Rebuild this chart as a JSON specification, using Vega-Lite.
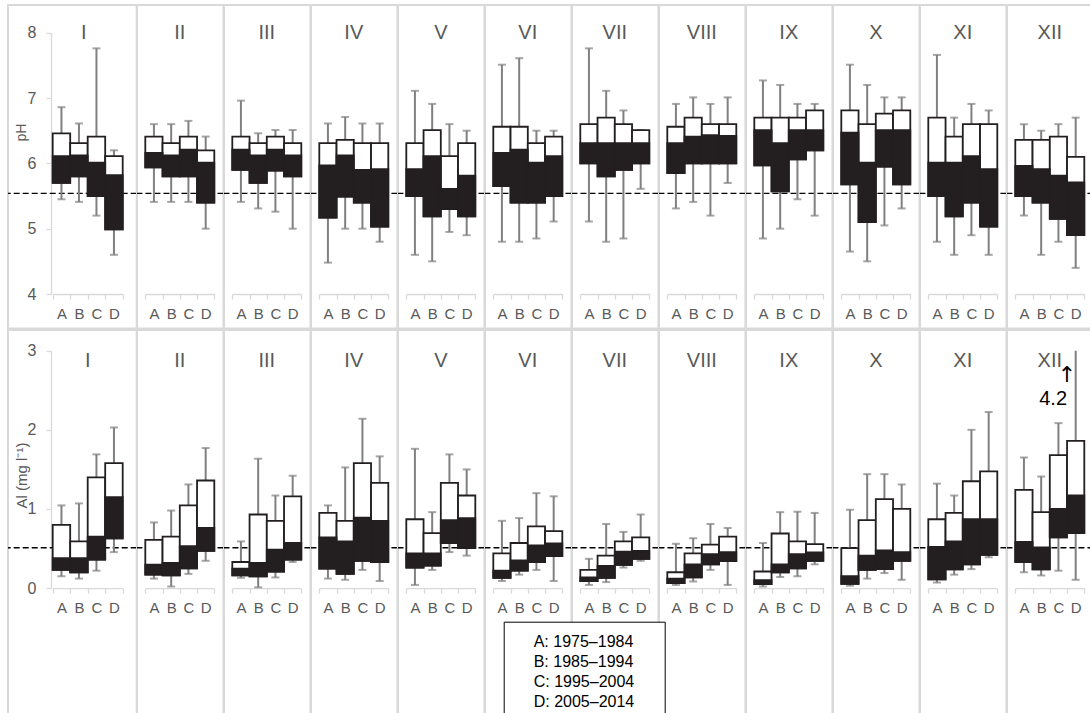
{
  "$schema": "https://vega.github.io/schema/vega-lite/v6.json",
  "padding": {"left": 6, "top": 4, "right": 0, "bottom": 0},
  "datasets": {
    "ph": [
      {"month":"I","period":"A","min":5.45,"q1":5.70,"median":6.11,"q3":6.46,"max":6.86},
      {"month":"I","period":"B","min":5.41,"q1":5.80,"median":6.12,"q3":6.31,"max":6.61},
      {"month":"I","period":"C","min":5.20,"q1":5.50,"median":6.01,"q3":6.41,"max":7.76},
      {"month":"I","period":"D","min":4.60,"q1":4.99,"median":5.82,"q3":6.11,"max":6.20},
      {"month":"II","period":"A","min":5.41,"q1":5.94,"median":6.16,"q3":6.41,"max":6.60},
      {"month":"II","period":"B","min":5.41,"q1":5.80,"median":6.12,"q3":6.31,"max":6.60},
      {"month":"II","period":"C","min":5.41,"q1":5.80,"median":6.21,"q3":6.41,"max":6.65},
      {"month":"II","period":"D","min":5.00,"q1":5.40,"median":6.01,"q3":6.20,"max":6.41},
      {"month":"III","period":"A","min":5.41,"q1":5.90,"median":6.21,"q3":6.41,"max":6.96},
      {"month":"III","period":"B","min":5.31,"q1":5.70,"median":6.12,"q3":6.31,"max":6.46},
      {"month":"III","period":"C","min":5.26,"q1":5.89,"median":6.21,"q3":6.41,"max":6.51},
      {"month":"III","period":"D","min":5.00,"q1":5.80,"median":6.12,"q3":6.31,"max":6.51},
      {"month":"IV","period":"A","min":4.48,"q1":5.17,"median":5.97,"q3":6.31,"max":6.61},
      {"month":"IV","period":"B","min":5.00,"q1":5.49,"median":6.12,"q3":6.36,"max":6.71},
      {"month":"IV","period":"C","min":5.00,"q1":5.40,"median":5.90,"q3":6.31,"max":6.61},
      {"month":"IV","period":"D","min":4.80,"q1":5.03,"median":5.91,"q3":6.31,"max":6.61},
      {"month":"V","period":"A","min":4.60,"q1":5.50,"median":5.91,"q3":6.31,"max":7.11},
      {"month":"V","period":"B","min":4.50,"q1":5.19,"median":6.11,"q3":6.51,"max":6.91},
      {"month":"V","period":"C","min":4.95,"q1":5.30,"median":5.61,"q3":6.11,"max":6.60},
      {"month":"V","period":"D","min":4.90,"q1":5.19,"median":5.81,"q3":6.31,"max":6.50},
      {"month":"VI","period":"A","min":4.80,"q1":5.65,"median":6.16,"q3":6.56,"max":7.51},
      {"month":"VI","period":"B","min":4.80,"q1":5.40,"median":6.21,"q3":6.56,"max":7.61},
      {"month":"VI","period":"C","min":4.85,"q1":5.40,"median":6.01,"q3":6.31,"max":6.50},
      {"month":"VI","period":"D","min":5.11,"q1":5.50,"median":6.11,"q3":6.41,"max":6.50},
      {"month":"VII","period":"A","min":5.11,"q1":6.00,"median":6.31,"q3":6.60,"max":7.76},
      {"month":"VII","period":"B","min":4.80,"q1":5.80,"median":6.31,"q3":6.70,"max":7.11},
      {"month":"VII","period":"C","min":4.85,"q1":5.90,"median":6.31,"q3":6.60,"max":6.81},
      {"month":"VII","period":"D","min":5.61,"q1":6.00,"median":6.31,"q3":6.51,"max":6.51},
      {"month":"VIII","period":"A","min":5.31,"q1":5.85,"median":6.31,"q3":6.56,"max":6.91},
      {"month":"VIII","period":"B","min":5.41,"q1":6.00,"median":6.41,"q3":6.70,"max":7.01},
      {"month":"VIII","period":"C","min":5.20,"q1":6.00,"median":6.43,"q3":6.60,"max":6.91},
      {"month":"VIII","period":"D","min":5.70,"q1":6.00,"median":6.42,"q3":6.60,"max":7.01},
      {"month":"IX","period":"A","min":4.85,"q1":5.97,"median":6.51,"q3":6.70,"max":7.27},
      {"month":"IX","period":"B","min":5.00,"q1":5.57,"median":6.31,"q3":6.70,"max":7.20},
      {"month":"IX","period":"C","min":5.45,"q1":6.06,"median":6.51,"q3":6.70,"max":6.91},
      {"month":"IX","period":"D","min":5.20,"q1":6.20,"median":6.51,"q3":6.81,"max":6.91},
      {"month":"X","period":"A","min":4.65,"q1":5.68,"median":6.47,"q3":6.81,"max":7.51},
      {"month":"X","period":"B","min":4.50,"q1":5.10,"median":6.01,"q3":6.60,"max":7.20},
      {"month":"X","period":"C","min":5.05,"q1":5.95,"median":6.51,"q3":6.76,"max":7.01},
      {"month":"X","period":"D","min":5.31,"q1":5.68,"median":6.51,"q3":6.81,"max":7.01},
      {"month":"XI","period":"A","min":4.80,"q1":5.50,"median":6.01,"q3":6.70,"max":7.66},
      {"month":"XI","period":"B","min":4.60,"q1":5.19,"median":6.01,"q3":6.41,"max":6.70},
      {"month":"XI","period":"C","min":4.90,"q1":5.40,"median":6.11,"q3":6.60,"max":6.91},
      {"month":"XI","period":"D","min":4.60,"q1":5.03,"median":5.91,"q3":6.60,"max":6.81},
      {"month":"XII","period":"A","min":5.20,"q1":5.50,"median":5.96,"q3":6.36,"max":6.60},
      {"month":"XII","period":"B","min":4.60,"q1":5.40,"median":5.91,"q3":6.36,"max":6.50},
      {"month":"XII","period":"C","min":4.80,"q1":5.15,"median":5.81,"q3":6.41,"max":6.60},
      {"month":"XII","period":"D","min":4.40,"q1":4.90,"median":5.71,"q3":6.10,"max":6.70}
    ],
    "al": [
      {"month":"I","period":"A","min":0.15,"q1":0.23,"median":0.38,"q3":0.80,"max":1.045},
      {"month":"I","period":"B","min":0.12,"q1":0.20,"median":0.38,"q3":0.59,"max":1.07},
      {"month":"I","period":"C","min":0.22,"q1":0.36,"median":0.65,"q3":1.40,"max":1.69},
      {"month":"I","period":"D","min":0.455,"q1":0.63,"median":1.15,"q3":1.58,"max":2.03},
      {"month":"II","period":"A","min":0.12,"q1":0.17,"median":0.295,"q3":0.61,"max":0.83},
      {"month":"II","period":"B","min":0.02,"q1":0.16,"median":0.32,"q3":0.65,"max":0.98},
      {"month":"II","period":"C","min":0.18,"q1":0.25,"median":0.53,"q3":1.045,"max":1.31},
      {"month":"II","period":"D","min":0.345,"q1":0.47,"median":0.76,"q3":1.36,"max":1.77},
      {"month":"III","period":"A","min":0.13,"q1":0.16,"median":0.245,"q3":0.33,"max":0.59},
      {"month":"III","period":"B","min":0.01,"q1":0.15,"median":0.32,"q3":0.93,"max":1.635},
      {"month":"III","period":"C","min":0.135,"q1":0.21,"median":0.485,"q3":0.85,"max":1.17},
      {"month":"III","period":"D","min":0.33,"q1":0.36,"median":0.57,"q3":1.16,"max":1.42},
      {"month":"IV","period":"A","min":0.12,"q1":0.245,"median":0.64,"q3":0.95,"max":1.045},
      {"month":"IV","period":"B","min":0.105,"q1":0.18,"median":0.59,"q3":0.85,"max":1.525},
      {"month":"IV","period":"C","min":0.23,"q1":0.345,"median":0.89,"q3":1.58,"max":2.14},
      {"month":"IV","period":"D","min":0.09,"q1":0.33,"median":0.85,"q3":1.33,"max":1.665},
      {"month":"V","period":"A","min":0.04,"q1":0.26,"median":0.44,"q3":0.87,"max":1.76},
      {"month":"V","period":"B","min":0.23,"q1":0.285,"median":0.44,"q3":0.695,"max":0.96},
      {"month":"V","period":"C","min":0.455,"q1":0.57,"median":0.86,"q3":1.33,"max":1.69},
      {"month":"V","period":"D","min":0.41,"q1":0.505,"median":0.885,"q3":1.17,"max":1.50},
      {"month":"VI","period":"A","min":0.09,"q1":0.13,"median":0.22,"q3":0.44,"max":0.85},
      {"month":"VI","period":"B","min":0.17,"q1":0.22,"median":0.35,"q3":0.57,"max":0.885},
      {"month":"VI","period":"C","min":0.23,"q1":0.33,"median":0.54,"q3":0.78,"max":1.20},
      {"month":"VI","period":"D","min":0.09,"q1":0.405,"median":0.565,"q3":0.72,"max":1.16},
      {"month":"VII","period":"A","min":0.04,"q1":0.09,"median":0.135,"q3":0.23,"max":0.37},
      {"month":"VII","period":"B","min":0.076,"q1":0.13,"median":0.28,"q3":0.41,"max":0.81},
      {"month":"VII","period":"C","min":0.26,"q1":0.295,"median":0.46,"q3":0.59,"max":0.71},
      {"month":"VII","period":"D","min":0.345,"q1":0.37,"median":0.47,"q3":0.64,"max":0.93},
      {"month":"VIII","period":"A","min":0.04,"q1":0.063,"median":0.118,"q3":0.20,"max":0.56},
      {"month":"VIII","period":"B","min":0.084,"q1":0.135,"median":0.30,"q3":0.44,"max":0.63},
      {"month":"VIII","period":"C","min":0.23,"q1":0.30,"median":0.43,"q3":0.55,"max":0.81},
      {"month":"VIII","period":"D","min":0.04,"q1":0.34,"median":0.455,"q3":0.65,"max":0.76},
      {"month":"IX","period":"A","min":0.02,"q1":0.05,"median":0.10,"q3":0.21,"max":0.57},
      {"month":"IX","period":"B","min":0.14,"q1":0.20,"median":0.30,"q3":0.69,"max":0.96},
      {"month":"IX","period":"C","min":0.15,"q1":0.25,"median":0.43,"q3":0.59,"max":0.965},
      {"month":"IX","period":"D","min":0.30,"q1":0.345,"median":0.45,"q3":0.556,"max":0.95},
      {"month":"X","period":"A","min":0.03,"q1":0.055,"median":0.15,"q3":0.506,"max":0.99},
      {"month":"X","period":"B","min":0.12,"q1":0.23,"median":0.41,"q3":0.86,"max":1.44},
      {"month":"X","period":"C","min":0.19,"q1":0.24,"median":0.475,"q3":1.125,"max":1.44},
      {"month":"X","period":"D","min":0.105,"q1":0.345,"median":0.455,"q3":1.00,"max":1.31},
      {"month":"XI","period":"A","min":0.07,"q1":0.11,"median":0.52,"q3":0.87,"max":1.32},
      {"month":"XI","period":"B","min":0.17,"q1":0.236,"median":0.59,"q3":0.95,"max":1.17},
      {"month":"XI","period":"C","min":0.24,"q1":0.30,"median":0.87,"q3":1.35,"max":2.00},
      {"month":"XI","period":"D","min":0.39,"q1":0.42,"median":0.87,"q3":1.475,"max":2.225},
      {"month":"XII","period":"A","min":0.20,"q1":0.33,"median":0.585,"q3":1.24,"max":1.65},
      {"month":"XII","period":"B","min":0.16,"q1":0.236,"median":0.515,"q3":0.96,"max":1.41},
      {"month":"XII","period":"C","min":0.22,"q1":0.64,"median":1.00,"q3":1.68,"max":2.085},
      {"month":"XII","period":"D","min":0.105,"q1":0.695,"median":1.17,"q3":1.86,"max":4.2}
    ]
  },
  "spacing": -2,
  "resolve": {"scale": {"x": "independent", "y": "independent"}},
  "vconcat": [
    {
      "spacing": 0,
      "bounds": "flush",
      "resolve": {"scale": {"x": "independent", "y": "independent"}},
      "hconcat": [
        {
          "data": {"name": "ph"},
          "transform": [{"filter": "datum.month == 'I'"}],
          "width": 128.7,
          "height": 323.6,
          "layer": [
            {
              "transform": [{"filter": "datum.period == 'A'"}],
              "mark": {"type": "rule", "color": "#000000", "strokeWidth": 1.3, "strokeDash": [6, 3]},
              "encoding": {"y": {"datum": 5.54, "type": "quantitative"}}
            },
            {
              "mark": {"type": "rule", "color": "#808080", "strokeWidth": 2},
              "encoding": {
                "x": {"field": "period", "type": "nominal", "scale": {"domain": ["A", "B", "C", "D"], "range": [44.7, 114.7], "paddingInner": 0, "paddingOuter": 0},
                  "axis": {"title": null, "labelAngle": 0, "offset": -34.6, "tickBand": "extent", "tickSize": 5, "labelPadding": 7, "labelFontSize": 15, "labelColor": "#595959", "domainColor": "#d9d9d9", "tickColor": "#d9d9d9", "domainWidth": 1.3, "tickWidth": 1.3}},
                "y": {"field": "min", "type": "quantitative", "scale": {"domain": [4, 8], "range": [289, 27.7], "zero": false, "nice": false},
                  "axis": {"title": "pH", "values": [4, 5, 6, 7, 8], "format": "d", "offset": -43, "tickSize": 5, "labelPadding": 10, "labelFontSize": 16, "labelColor": "#595959", "titleFontSize": 14, "titleFontWeight": "normal", "titleColor": "#595959", "titleX": -30, "titleY": 127, "titleBaseline": "middle", "titleAlign": "center", "titleAngle": -90, "domainColor": "#d9d9d9", "tickColor": "#d9d9d9", "domainWidth": 1.3, "tickWidth": 1.3, "grid": false}},
                "y2": {"field": "max"}
              }
            },
            {"mark": {"type": "tick", "color": "#808080", "thickness": 2, "size": 8}, "encoding": {"x": {"field": "period", "type": "nominal"}, "y": {"field": "min", "type": "quantitative"}}},
            {"mark": {"type": "tick", "color": "#808080", "thickness": 2, "size": 8}, "encoding": {"x": {"field": "period", "type": "nominal"}, "y": {"field": "max", "type": "quantitative"}}},
            {"mark": {"type": "bar", "fill": "#ffffff", "stroke": "#231f20", "strokeWidth": 1.8}, "encoding": {"x": {"field": "period", "type": "nominal"}, "y": {"field": "q1", "type": "quantitative"}, "y2": {"field": "q3"}}},
            {"mark": {"type": "bar", "fill": "#231f20", "stroke": "#231f20", "strokeWidth": 1.8}, "encoding": {"x": {"field": "period", "type": "nominal"}, "y": {"field": "q1", "type": "quantitative"}, "y2": {"field": "median"}}},
            {
              "transform": [{"filter": "datum.period == 'B'"}],
              "mark": {"type": "text", "fontSize": 20, "color": "#595959", "baseline": "middle", "font": "Liberation Sans"},
              "encoding": {"x": {"field": "period", "type": "nominal", "bandPosition": 0.77}, "y": {"datum": 8, "type": "quantitative"}, "text": {"field": "month"}}
            }
          ]
        },
        {
          "data": {"name": "ph"},
          "transform": [{"filter": "datum.month != 'I'"}],
          "facet": {"column": {"field": "month", "type": "nominal", "sort": ["II", "III", "IV", "V", "VI", "VII", "VIII", "IX", "X", "XI", "XII"], "header": {"labels": false, "title": null, "labelPadding": 0, "titlePadding": 0}}},
          "spacing": 0,
          "bounds": "flush",
          "resolve": {"scale": {"x": "independent"}},
          "spec": {
            "width": 86.45,
            "height": 323.6,
            "layer": [
              {
                "transform": [{"filter": "datum.period == 'A'"}],
                "mark": {"type": "rule", "color": "#000000", "strokeWidth": 1.3, "strokeDash": [6, 3]},
                "encoding": {"y": {"datum": 5.54, "type": "quantitative", "axis": null}}
              },
              {
                "mark": {"type": "rule", "color": "#808080", "strokeWidth": 2},
                "encoding": {
                  "x": {"field": "period", "type": "nominal", "scale": {"domain": ["A", "B", "C", "D"], "range": [8.3, 77.3], "paddingInner": 0, "paddingOuter": 0},
                    "axis": {"title": null, "labelAngle": 0, "offset": -34.6, "tickBand": "extent", "tickSize": 5, "labelPadding": 7, "labelFontSize": 15, "labelColor": "#595959", "domainColor": "#d9d9d9", "tickColor": "#d9d9d9", "domainWidth": 1.3, "tickWidth": 1.3}},
                  "y": {"field": "min", "type": "quantitative", "scale": {"domain": [4, 8], "range": [289, 27.7], "zero": false, "nice": false}, "axis": null},
                  "y2": {"field": "max"}
                }
              },
              {"mark": {"type": "tick", "color": "#808080", "thickness": 2, "size": 8}, "encoding": {"x": {"field": "period", "type": "nominal"}, "y": {"field": "min", "type": "quantitative", "axis": null}}},
              {"mark": {"type": "tick", "color": "#808080", "thickness": 2, "size": 8}, "encoding": {"x": {"field": "period", "type": "nominal"}, "y": {"field": "max", "type": "quantitative", "axis": null}}},
              {"mark": {"type": "bar", "fill": "#ffffff", "stroke": "#231f20", "strokeWidth": 1.8}, "encoding": {"x": {"field": "period", "type": "nominal"}, "y": {"field": "q1", "type": "quantitative", "axis": null}, "y2": {"field": "q3"}}},
              {"mark": {"type": "bar", "fill": "#231f20", "stroke": "#231f20", "strokeWidth": 1.8}, "encoding": {"x": {"field": "period", "type": "nominal"}, "y": {"field": "q1", "type": "quantitative", "axis": null}, "y2": {"field": "median"}}},
              {
                "transform": [{"filter": "datum.period == 'B'"}],
                "mark": {"type": "text", "fontSize": 20, "color": "#595959", "baseline": "middle", "font": "Liberation Sans"},
                "encoding": {"x": {"field": "period", "type": "nominal", "bandPosition": 1}, "y": {"datum": 8, "type": "quantitative", "axis": null}, "text": {"field": "month"}}
              }
            ]
          }
        }
      ]
    },
    {
      "spacing": 0,
      "bounds": "flush",
      "resolve": {"scale": {"x": "independent", "y": "independent"}},
      "hconcat": [
        {
          "data": {"name": "al"},
          "transform": [{"filter": "datum.month == 'I'"}],
          "width": 128.7,
          "height": 390,
          "layer": [
            {
              "transform": [{"filter": "datum.period == 'A'"}],
              "mark": {"type": "rule", "color": "#000000", "strokeWidth": 1.3, "strokeDash": [6, 3]},
              "encoding": {"y": {"datum": 0.51, "type": "quantitative"}}
            },
            {
              "mark": {"type": "rule", "strokeWidth": 2},
              "encoding": {
                "x": {"field": "period", "type": "nominal", "scale": {"domain": ["A", "B", "C", "D"], "range": [44.7, 114.7], "paddingInner": 0, "paddingOuter": 0},
                  "axis": {"title": null, "labelAngle": 0, "offset": -131.9, "tickBand": "extent", "tickSize": 5, "labelPadding": 7, "labelFontSize": 15, "labelColor": "#595959", "domainColor": "#d9d9d9", "tickColor": "#d9d9d9", "domainWidth": 1.3, "tickWidth": 1.3}},
                "y": {"field": "min", "type": "quantitative", "scale": {"domain": [0, 3], "range": [258.1, 20.7], "zero": false, "nice": false, "clamp": true},
                  "axis": {"title": "Al (mg l⁻¹)", "values": [0, 1, 2, 3], "format": "d", "offset": -43, "tickSize": 5, "labelPadding": 10, "labelFontSize": 16, "labelColor": "#595959", "titleFontSize": 15, "titleFontWeight": "normal", "titleColor": "#595959", "titleX": -30, "titleY": 145, "titleBaseline": "middle", "titleAlign": "center", "titleAngle": -90, "domainColor": "#d9d9d9", "tickColor": "#d9d9d9", "domainWidth": 1.3, "tickWidth": 1.3, "grid": false}},
                "y2": {"field": "max"},
                "color": {"field": "period", "type": "nominal", "scale": {"domain": ["A", "B", "C", "D"], "range": ["#808080", "#808080", "#808080", "#808080"]},
                  "legend": {
                    "orient": "none", "legendX": 495.7, "legendY": 616.7, "direction": "vertical",
                    "title": "x", "titleOpacity": 0, "titleOrient": "right", "titlePadding": 9, "titleFontSize": 16,
                    "labelExpr": "datum.label == 'A' ? 'A: 1975–1984' : datum.label == 'B' ? 'B: 1985–1994' : datum.label == 'C' ? 'C: 1995–2004' : 'D: 2005–2014'",
                    "labelFont": "Liberation Sans", "labelFontSize": 16, "labelColor": "#000000",
                    "symbolOpacity": 0, "symbolSize": 0, "symbolStrokeWidth": 0, "symbolOffset": 0, "labelOffset": 2,
                    "strokeColor": "#000000", "fillColor": "#ffffff", "padding": 12, "rowPadding": 4
                  }}
              }
            },
            {"mark": {"type": "tick", "color": "#808080", "thickness": 2, "size": 8}, "encoding": {"x": {"field": "period", "type": "nominal"}, "y": {"field": "min", "type": "quantitative"}}},
            {"mark": {"type": "tick", "color": "#808080", "thickness": 2, "size": 8}, "encoding": {"x": {"field": "period", "type": "nominal"}, "y": {"field": "max", "type": "quantitative"}}},
            {"mark": {"type": "bar", "fill": "#ffffff", "stroke": "#231f20", "strokeWidth": 1.8}, "encoding": {"x": {"field": "period", "type": "nominal"}, "y": {"field": "q1", "type": "quantitative"}, "y2": {"field": "q3"}}},
            {"mark": {"type": "bar", "fill": "#231f20", "stroke": "#231f20", "strokeWidth": 1.8}, "encoding": {"x": {"field": "period", "type": "nominal"}, "y": {"field": "q1", "type": "quantitative"}, "y2": {"field": "median"}}},
            {
              "transform": [{"filter": "datum.period == 'B'"}],
              "mark": {"type": "text", "fontSize": 20, "color": "#595959", "baseline": "middle", "font": "Liberation Sans"},
              "encoding": {"x": {"field": "period", "type": "nominal", "bandPosition": 1}, "y": {"datum": 2.87, "type": "quantitative"}, "text": {"field": "month"}}
            }
          ]
        },
        {
          "data": {"name": "al"},
          "transform": [{"filter": "datum.month != 'I'"}],
          "facet": {"column": {"field": "month", "type": "nominal", "sort": ["II", "III", "IV", "V", "VI", "VII", "VIII", "IX", "X", "XI", "XII"], "header": {"labels": false, "title": null, "labelPadding": 0, "titlePadding": 0}}},
          "spacing": 0,
          "bounds": "flush",
          "resolve": {"scale": {"x": "independent"}},
          "spec": {
            "width": 86.45,
            "height": 390,
            "layer": [
              {
                "transform": [{"filter": "datum.period == 'A'"}],
                "mark": {"type": "rule", "color": "#000000", "strokeWidth": 1.3, "strokeDash": [6, 3]},
                "encoding": {"y": {"datum": 0.51, "type": "quantitative", "axis": null}}
              },
              {
                "mark": {"type": "rule", "color": "#808080", "strokeWidth": 2},
                "encoding": {
                  "x": {"field": "period", "type": "nominal", "scale": {"domain": ["A", "B", "C", "D"], "range": [8.3, 77.3], "paddingInner": 0, "paddingOuter": 0},
                    "axis": {"title": null, "labelAngle": 0, "offset": -131.9, "tickBand": "extent", "tickSize": 5, "labelPadding": 7, "labelFontSize": 15, "labelColor": "#595959", "domainColor": "#d9d9d9", "tickColor": "#d9d9d9", "domainWidth": 1.3, "tickWidth": 1.3}},
                  "y": {"field": "min", "type": "quantitative", "scale": {"domain": [0, 3], "range": [258.1, 20.7], "zero": false, "nice": false, "clamp": true}, "axis": null},
                  "y2": {"field": "max"}
                }
              },
              {"mark": {"type": "tick", "color": "#808080", "thickness": 2, "size": 8}, "encoding": {"x": {"field": "period", "type": "nominal"}, "y": {"field": "min", "type": "quantitative", "axis": null}}},
              {"transform": [{"filter": "datum.max <= 3"}], "mark": {"type": "tick", "color": "#808080", "thickness": 2, "size": 8}, "encoding": {"x": {"field": "period", "type": "nominal"}, "y": {"field": "max", "type": "quantitative", "axis": null}}},
              {"mark": {"type": "bar", "fill": "#ffffff", "stroke": "#231f20", "strokeWidth": 1.8}, "encoding": {"x": {"field": "period", "type": "nominal"}, "y": {"field": "q1", "type": "quantitative", "axis": null}, "y2": {"field": "q3"}}},
              {"mark": {"type": "bar", "fill": "#231f20", "stroke": "#231f20", "strokeWidth": 1.8}, "encoding": {"x": {"field": "period", "type": "nominal"}, "y": {"field": "q1", "type": "quantitative", "axis": null}, "y2": {"field": "median"}}},
              {
                "transform": [{"filter": "datum.period == 'B'"}],
                "mark": {"type": "text", "fontSize": 20, "color": "#595959", "baseline": "middle", "font": "Liberation Sans"},
                "encoding": {"x": {"field": "period", "type": "nominal", "bandPosition": 1}, "y": {"datum": 2.87, "type": "quantitative", "axis": null}, "text": {"field": "month"}}
              },
              {
                "transform": [{"filter": "datum.max > 3"}],
                "mark": {"type": "text", "fontSize": 22, "color": "#000000", "baseline": "middle", "align": "center", "font": "DejaVu Sans"},
                "encoding": {"x": {"field": "period", "type": "nominal", "bandPosition": 0}, "y": {"datum": 2.69, "type": "quantitative", "axis": null}, "text": {"value": "↑"}}
              },
              {
                "transform": [{"filter": "datum.max > 3"}],
                "mark": {"type": "text", "fontSize": 20, "color": "#000000", "baseline": "middle", "align": "right", "font": "Liberation Sans"},
                "encoding": {"x": {"field": "period", "type": "nominal", "bandPosition": 0}, "y": {"datum": 2.385, "type": "quantitative", "axis": null}, "text": {"field": "max", "type": "quantitative", "format": ".1f"}}
              }
            ]
          }
        }
      ]
    }
  ],
  "config": {
    "view": {"stroke": "#d9d9d9", "strokeWidth": 2},
    "font": "Liberation Sans",
    "axis": {"grid": false, "labelFont": "Liberation Sans", "titleFont": "Liberation Sans"}
  }
}
